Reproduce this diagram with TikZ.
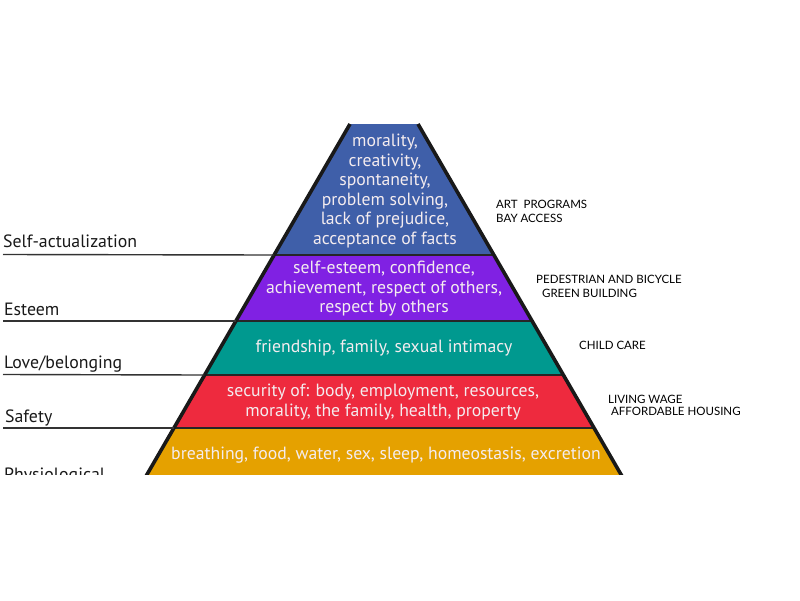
\documentclass[tikz,border=0pt]{standalone}
\usepackage{fontspec}
\setmainfont{PT Sans}
\newfontfamily\hand{Lato}
\definecolor{cblue}{HTML}{3F5FA9}
\definecolor{cpurple}{HTML}{8021E3}
\definecolor{cteal}{HTML}{00998F}
\definecolor{cred}{HTML}{EE2A3E}
\definecolor{corange}{HTML}{E5A100}
\definecolor{ctxt}{HTML}{F4ECEF}
\begin{document}
\begin{tikzpicture}[x=1pt,y=-1pt,
  band/.style={draw=black!85,line width=1.6pt},
  intext/.style={text=ctxt,font=\fontsize{17.7}{19.5}\selectfont,align=center,inner sep=0pt},
  lbl/.style={anchor=base west,font=\fontsize{17.8}{20}\selectfont,text=black!90,inner sep=0pt},
  lline/.style={draw=black!80,line width=1.4pt},
  note/.style={anchor=base west,font=\hand\fontsize{11.5}{14}\selectfont,text=black,inner sep=0pt,align=left}]
\useasboundingbox (0,0) rectangle (800,600);
\fill[white] (0,0) rectangle (800,600);
\begin{scope}
\clip (0,0) rectangle (800,474);
% bands
\coordinate (t1) at (350,124); \coordinate (t2) at (418,124);
\coordinate (a1) at (274,255); \coordinate (a2) at (494,255);
\coordinate (b1) at (235.7,321); \coordinate (b2) at (532.3,321);
\coordinate (c1) at (204.4,375); \coordinate (c2) at (563.6,375);
\coordinate (d1) at (173.7,428); \coordinate (d2) at (594.3,428);
\coordinate (e1) at (138,490); \coordinate (e2) at (630,490);
\fill[cblue] (t1)--(t2)--(a2)--(a1)--cycle;
\fill[cpurple] (a1)--(a2)--(b2)--(b1)--cycle;
\fill[cteal] (b1)--(b2)--(c2)--(c1)--cycle;
\fill[cred] (c1)--(c2)--(d2)--(d1)--cycle;
\fill[corange] (d1)--(d2)--(e2)--(e1)--cycle;
\draw[band] (a1)--(a2) (b1)--(b2) (c1)--(c2) (d1)--(d2);
\draw[line width=3.6pt,black!90] (t1)--(e1) (t2)--(e2);
% left labels and lines
\coordinate (s0) at (3,254.5); \coordinate (s1) at (3,321); \coordinate (s2) at (3,374.5); \coordinate (s3) at (3,428);
\draw[lline] (s0)--(a1);
\draw[lline] (s1)--(b1);
\draw[lline] (s2)--(c1);
\draw[lline] (s3)--(d1);
\node[lbl] (lsa) at (3,247) {Self-actualization};
\node[lbl] (les) at (4,315) {Esteem};
\node[lbl] (llo) at (4,368) {Love/belonging};
\node[lbl] (lsf) at (5,422) {Safety};
\node[lbl] (lph) at (4,480) {Physiological};
% inner texts
\node[intext] (tsa) at (385,191) {morality,\\creativity,\\spontaneity,\\problem solving,\\lack of prejudice,\\acceptance of facts};
\node[intext] (tes) at (384,289) {self-esteem, confidence,\\achievement, respect of others,\\respect by others};
\node[intext] (tlo) at (384,348) {friendship, family, sexual intimacy};
\node[intext] (tsf) at (383,402) {security of: body, employment, resources,\\morality, the family, health, property};
\node[intext] (tph) at (386,455) {breathing, food, water, sex, sleep, homeostasis, excretion};
\end{scope}
% handwritten notes
\node[note] (n1) at (496,222) {ART\ \ PROGRAMS\\BAY ACCESS};
\node[note] (n2) at (536,297) {PEDESTRIAN AND BICYCLE\\\ \ GREEN BUILDING};
\node[note] (n3) at (579,349) {CHILD CARE};
\node[note] (n4) at (608,415) {LIVING WAGE\\[-2pt]\ AFFORDABLE HOUSING};
\end{tikzpicture}
\end{document}
